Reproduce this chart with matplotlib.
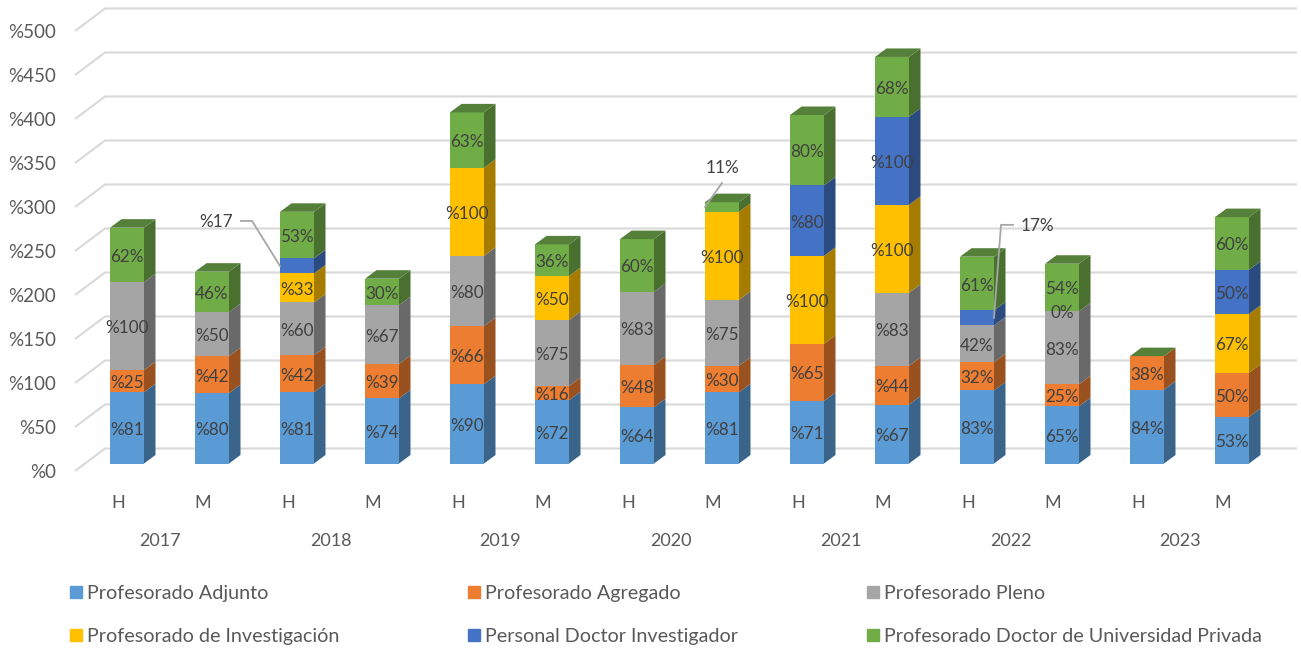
import matplotlib
matplotlib.use('Agg')
import numpy as np
import matplotlib.pyplot as plt
from matplotlib.patches import Patch

plt.rcParams['font.family'] = ['Lato', 'DejaVu Sans']

sexes = ['H', 'M'] * 7
years = ['2017', '2018', '2019', '2020', '2021', '2022', '2023']
yticks = [0, 50, 100, 150, 200, 250, 300, 350, 400, 450, 500]

names = ['Profesorado Adjunto', 'Profesorado Agregado', 'Profesorado Pleno',
         'Profesorado de Investigación', 'Personal Doctor Investigador',
         'Profesorado Doctor de Universidad Privada']

# values per series, 14 bars
adjunto = [81, 80, 81, 74, 90, 72, 64, 81, 71, 67, 83, 65, 84, 53]
agregado = [25, 42, 42, 39, 66, 16, 48, 30, 65, 44, 32, 25, 38, 50]
pleno = [100, 50, 60, 67, 80, 75, 83, 75, 0, 83, 42, 83, 0, 0]
investigacion = [0, 0, 33, 0, 100, 50, 0, 100, 100, 100, 0, 0, 0, 67]
doctor = [0, 0, 17, 0, 0, 0, 0, 0, 80, 100, 17, 0, 0, 50]
privada = [62, 46, 53, 30, 63, 36, 60, 11, 80, 68, 61, 54, 0, 60]
series = [adjunto, agregado, pleno, investigacion, doctor, privada]

# text of the data labels, '' = no label on the segment
lab_adjunto = ['%81', '%80', '%81', '%74', '%90', '%72', '%64', '%81', '%71', '%67', '83%', '65%', '84%', '53%']
lab_agregado = ['%25', '%42', '%42', '%39', '%66', '%16', '%48', '%30', '%65', '%44', '32%', '25%', '38%', '50%']
lab_pleno = ['%100', '%50', '%60', '%67', '%80', '%75', '%83', '%75', '', '%83', '42%', '83%', '', '']
lab_investigacion = ['', '', '%33', '', '%100', '%50', '', '%100', '%100', '%100', '', '0%', '', '67%']
lab_doctor = ['', '', '', '', '', '', '', '', '%80', '%100', '', '', '', '50%']
lab_privada = ['62%', '46%', '53%', '30%', '63%', '36%', '60%', '', '80%', '68%', '61%', '54%', '', '60%']
labels = [lab_adjunto, lab_agregado, lab_pleno, lab_investigacion, lab_doctor, lab_privada]

front = ['#5B9BD5', '#ED7D31', '#A5A5A5', '#FFC000', '#4472C4', '#70AD47']
side = ['#3A6489', '#9A5120', '#696969', '#A67C00', '#2B4A80', '#4A7030']
top_color = '#54803A'
text_color = '#404040'
axis_color = '#595959'
grid_color = '#D9D9D9'

W, H = 1301, 648
PX_X = 85.0     # pixels per bar slot
PX_Y = 0.88     # pixels per percent
X0 = 127.0      # pixel of first bar centre
Y0 = 463.5      # pixel of value 0 on bar front

fig = plt.figure(figsize=(W / 100, H / 100), dpi=100)
ax = fig.add_axes([0, 0, 1, 1])
ax.set_xlim(-X0 / PX_X, (W - X0) / PX_X)
ax.set_ylim(-(H - Y0) / PX_Y, Y0 / PX_Y)
ax.axis('off')

def ox(px):
    return px / PX_X

def oy(px):
    return px / PX_Y

# gridlines on the floor and back wall
for v in yticks:
    ax.plot([ox(-52), ox(-22), ox(1170)],
            [v + oy(-7.5), v + oy(15), v + oy(15)],
            color=grid_color, lw=1.5, zorder=1, solid_capstyle='butt')
    ax.text(ox(-71), v + oy(-9), '%' + str(v), ha='right', va='center',
            fontsize=13.5, color=axis_color)

# bars, front through ax.bar and depth faces as polygons
x = np.arange(len(sexes))
bar_w = 0.4
dx = ox(11.5)
dy = oy(8.5)
bottom = np.zeros(len(sexes))
for s in range(len(series)):
    vals = np.array(series[s], dtype=float)
    ax.bar(x, vals, bar_w, bottom=bottom, color=front[s], zorder=3)
    for i in x:
        xr = i + bar_w / 2
        ax.fill([xr, xr + dx, xr + dx, xr],
                [bottom[i], bottom[i] + dy, bottom[i] + vals[i] + dy, bottom[i] + vals[i]],
                color=side[s], lw=0, zorder=3)
        if labels[s][i]:
            ax.text(i, bottom[i] + vals[i] / 2 + oy(-2), labels[s][i], ha='center', va='center',
                    fontsize=12.3, color=text_color, zorder=5)
    bottom += vals

for i in x:
    xl = i - bar_w / 2
    xr = i + bar_w / 2
    ax.fill([xl, xr, xr + dx, xl + dx],
            [bottom[i], bottom[i], bottom[i] + dy, bottom[i] + dy],
            color=top_color, lw=0, zorder=3)

# callouts: bar, anchor height, leader points relative to anchor (px), text offset (px), text
callouts = [
    (2, 224.5, [(-17, 0), (-45, 45), (-56, 45)], (-81, 44), '%17'),
    (7, 291.5, [(-17, 0), (0, 24)], (0, 39), '11%'),
    (10, 165.5, [(17, 0), (24, 93), (36, 93)], (60, 92), '17%'),
]
for i, anchor, pts, tpos, txt in callouts:
    xs = [i + ox(p[0]) for p in pts]
    ys = [anchor + oy(p[1]) for p in pts]
    ax.plot(xs, ys, color='#A6A6A6', lw=1.3, zorder=6)
    ax.text(i + ox(tpos[0]), anchor + oy(tpos[1]), txt, ha='center', va='center',
            fontsize=12.3, color=text_color, zorder=6)

# category labels
for i in x:
    ax.text(i + ox(-9), oy(-39), sexes[i], ha='center', va='center',
            fontsize=13, color=axis_color)
for k in range(len(years)):
    ax.text(2 * k + 0.5 + ox(-9), oy(-78), years[k], ha='center', va='center',
            fontsize=13, color=axis_color)

# legend, reordered so the rows read left to right
order = [0, 3, 1, 4, 2, 5]
handles = [Patch(color=front[s], label=names[s]) for s in order]
ax.legend(handles=handles, ncol=3, frameon=False, loc='upper left',
          bbox_to_anchor=(70 / W, 1 - 585 / H), fontsize=14.2,
          labelcolor=axis_color, handlelength=0.61, handleheight=0.61,
          handletextpad=0.25, columnspacing=6.54, labelspacing=1.32,
          borderpad=0, borderaxespad=0)

plt.savefig('out.png', dpi=100)
